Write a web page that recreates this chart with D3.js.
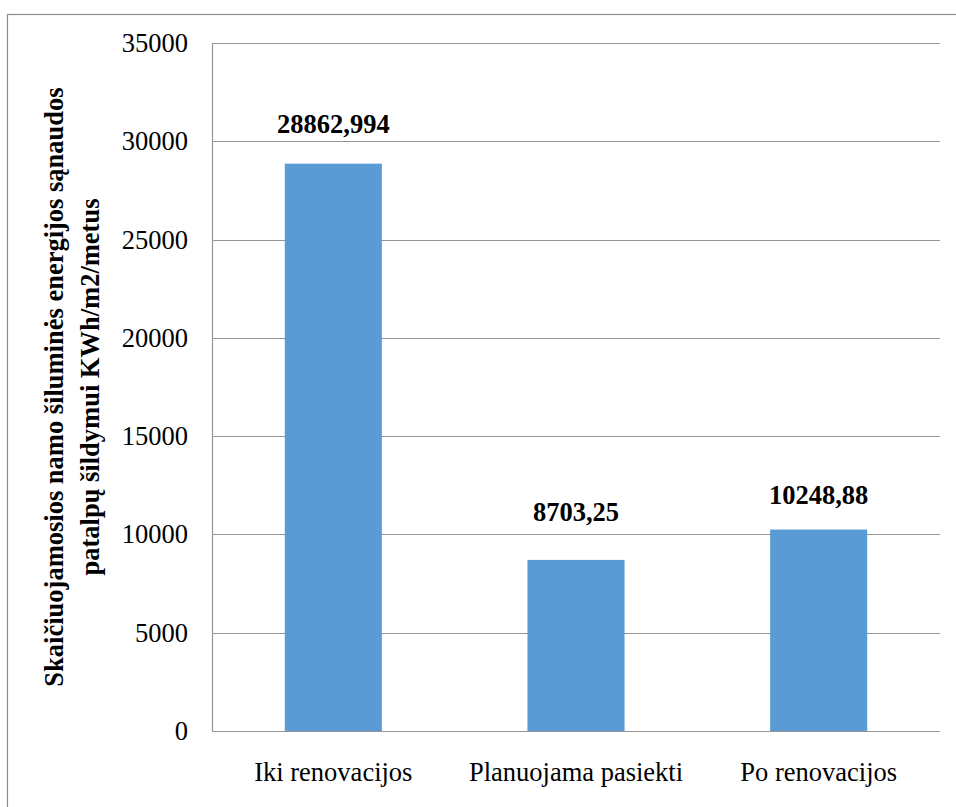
<!DOCTYPE html>
<html lang="lt">
<head>
<meta charset="utf-8">
<title>Šiluminės energijos sąnaudos</title>
<script src="https://cdn.jsdelivr.net/npm/d3@7"></script>
<style>
  html, body { margin: 0; padding: 0; background: #fff; }
  svg { display: block; }
</style>
</head>
<body>
<script>
// Chart data
const categories = ["Iki renovacijos", "Planuojama pasiekti", "Po renovacijos"];
const values = [28862.994, 8703.25, 10248.88];
const valueLabels = ["28862,994", "8703,25", "10248,88"];
const yTicks = [0, 5000, 10000, 15000, 20000, 25000, 30000, 35000];
const yTitleLines = [
  "Skaičiuojamosios namo šiluminės energijos sąnaudos",
  "patalpų šildymui KWh/m2/metus"
];

// Layout
const W = 956, H = 807;
const plot = { left: 212, right: 940, top: 43, bottom: 731 };
const labelLift = [31, 39, 26];
const barColor = "#5B9BD5";
const gridColor = "#959595";
const fontSize = 26.5;
const serif = '"Liberation Serif", "Times New Roman", Times, serif';

const svg = d3.select("body").append("svg")
  .attr("width", W).attr("height", H);

// Outer chart frame
svg.append("rect")
  .attr("x", 7.5).attr("y", 14.5)
  .attr("width", 960).attr("height", 800)
  .attr("fill", "none").attr("stroke", "#8c8c8c").attr("stroke-width", 1.2);

const x = d3.scaleBand()
  .domain(categories)
  .range([plot.left, plot.right])
  .paddingInner(0.6)
  .paddingOuter(0.3);

const y = d3.scaleLinear()
  .domain([0, 35000])
  .range([plot.bottom, plot.top]);

// Horizontal gridlines
svg.append("g")
  .selectAll("line")
  .data(yTicks.filter(d => d > 0))
  .join("line")
  .attr("x1", plot.left).attr("x2", plot.right)
  .attr("y1", d => Math.round(y(d)) + 0.5)
  .attr("y2", d => Math.round(y(d)) + 0.5)
  .attr("stroke", gridColor).attr("stroke-width", 1.2);

// Y axis tick labels
const yAxis = d3.axisLeft(y)
  .tickValues(yTicks)
  .tickSize(0)
  .tickPadding(24)
  .tickFormat(d => String(d));
const gy = svg.append("g")
  .attr("transform", `translate(${plot.left},0)`)
  .call(yAxis);
gy.select(".domain").remove();
gy.selectAll("text")
  .style("font-family", serif)
  .style("font-size", fontSize + "px")
  .attr("fill", "#000");

// Bars
svg.append("g")
  .selectAll("rect")
  .data(values)
  .join("rect")
  .attr("x", (d, i) => x(categories[i]))
  .attr("width", x.bandwidth())
  .attr("y", d => y(d))
  .attr("height", d => y(0) - y(d))
  .attr("fill", barColor);

// Axis lines (left and bottom)
svg.append("line")
  .attr("x1", plot.left + 0.5).attr("x2", plot.left + 0.5)
  .attr("y1", plot.top).attr("y2", plot.bottom)
  .attr("stroke", gridColor).attr("stroke-width", 1.2);
svg.append("line")
  .attr("x1", plot.left).attr("x2", plot.right)
  .attr("y1", plot.bottom + 0.5).attr("y2", plot.bottom + 0.5)
  .attr("stroke", gridColor).attr("stroke-width", 1.2);

// Category labels
const xAxis = d3.axisBottom(x).tickSize(0).tickPadding(0);
const gx = svg.append("g")
  .attr("transform", `translate(0,${plot.bottom})`)
  .call(xAxis);
gx.select(".domain").remove();
gx.selectAll("text")
  .attr("dy", null)
  .attr("y", 50)
  .style("font-family", serif)
  .style("font-size", fontSize + "px")
  .attr("fill", "#000");

// Value labels above bars
svg.append("g")
  .selectAll("text")
  .data(values)
  .join("text")
  .attr("x", (d, i) => x(categories[i]) + x.bandwidth() / 2)
  .attr("y", (d, i) => y(d) - labelLift[i])
  .attr("text-anchor", "middle")
  .style("font-family", serif)
  .style("font-size", fontSize + "px")
  .style("font-weight", "bold")
  .text((d, i) => valueLabels[i]);

// Rotated y axis title
const cy = (plot.top + plot.bottom) / 2;
const title = svg.append("text")
  .attr("transform", `translate(0,${cy}) rotate(-90)`)
  .attr("text-anchor", "middle")
  .style("font-family", serif)
  .style("font-size", fontSize + "px")
  .style("font-weight", "bold");
title.selectAll("tspan")
  .data(yTitleLines)
  .join("tspan")
  .attr("x", 0)
  .attr("y", (d, i) => 63 + i * 36)
  .text(d => d);
</script>
</body>
</html>
